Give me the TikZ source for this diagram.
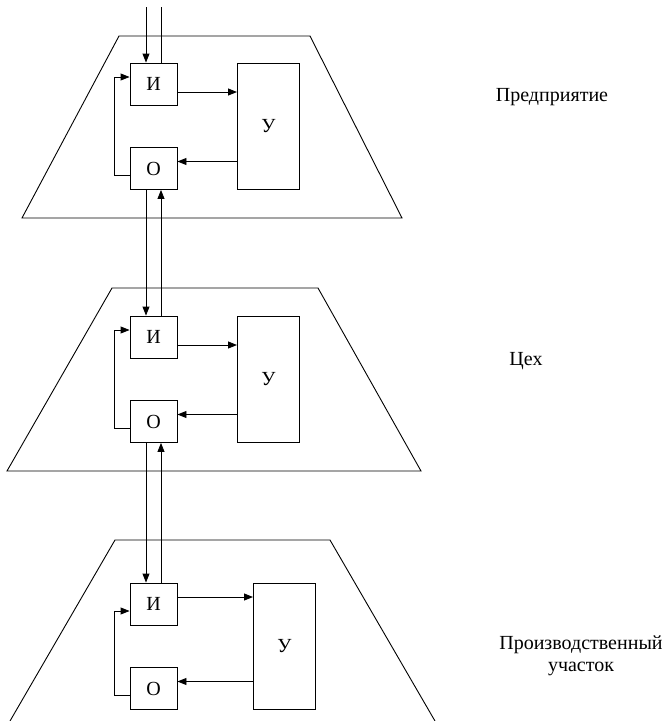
\documentclass[tikz,border=0pt]{standalone}
\usepackage{fontspec}
\setmainfont{Liberation Serif}
\newfontfamily\rufont{Liberation Serif}
\usetikzlibrary{arrows.meta}

\begin{document}
\begin{tikzpicture}[x=1pt,y=-1pt,line width=0.9pt,
  every node/.style={font=\rufont\fontsize{20}{22}\selectfont},
  blk/.style={draw,minimum width=47pt,minimum height=42pt,inner sep=0pt},
  ublk/.style={draw,minimum width=62pt,minimum height=126pt,inner sep=0pt},
  arr/.style={-{Triangle[length=9pt,width=7pt]}}]
  \useasboundingbox (0,0) rectangle (667,721);
  \draw (22,218)--(119,36)--(310,36)--(402,218)--cycle;
  \draw (7,471)--(112,288)--(318,288)--(421,471)--cycle;
  \draw (10,721)--(115,540)--(330,540)--(435,721);
  \foreach \n/\t/\ux/\a/\b in {1/63/237/-8/7,2/316/237/-8/7,3/583/253/7/-7}{
    \node[blk] (I\n) at (153.5,\t+21) {И};
    \node[blk] (O\n) at (153.5,\t+105.5) {О};
    \node[ublk,anchor=north west] (U\n) at (\ux,\t) {У};
    \coordinate (iu\n) at ([yshift=\a pt]I\n.east);
    \coordinate (uo\n) at ([yshift=7pt]O\n.east);
    \draw[arr] (iu\n) -- (U\n.west |- iu\n);
    \draw[arr] (U\n.west |- uo\n) -- (uo\n);
    \draw[arr] ([yshift=-7pt]O\n.west) -- ++(-15,0) |- ([yshift=\b pt]I\n.west);
  }
  \coordinate (in1) at (146,7);
  \coordinate (in2) at (161,7);
  \draw[arr] (in1) -- (in1 |- I1.north);
  \draw (in2 |- I1.north) -- (in2);
  \foreach \m/\n in {1/2,2/3}{
    \draw[arr] ([xshift=-7.5pt]O\m.south) -- ([xshift=-7.5pt]I\n.north);
    \draw[arr] ([xshift=7.5pt]I\n.north) -- ([xshift=7.5pt]O\m.south);
  }
  \node (ent) at (552,97) {Предприятие};
  \node (shop) at (526,361) {Цех};
  \node[align=center] (site) at (581,656) {Производственный\\участок};
\end{tikzpicture}
\end{document}
